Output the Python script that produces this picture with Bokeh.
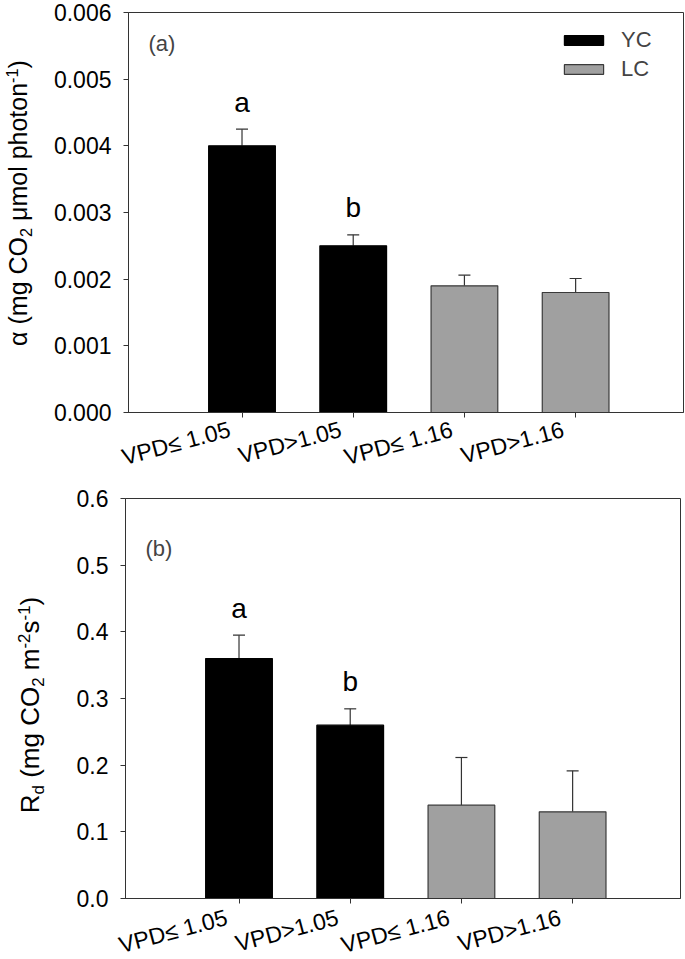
import math
from bokeh.plotting import figure
from bokeh.models import (Range1d, FixedTicker, PrintfTickFormatter, Whisker, TeeHead,
                          ColumnDataSource, Label, Legend, LegendItem, Div)
from bokeh.layouts import column, row
from bokeh.embed import file_html
from bokeh.resources import INLINE
from bokeh.core.properties import value

# ---------------- data ----------------
categories = ["VPD\u2264 1.05", "VPD>1.05", "VPD\u2264 1.16", "VPD>1.16"]
groups = ["YC", "YC", "LC", "LC"]
alpha_mean = [0.0040, 0.0025, 0.0019, 0.0018]
alpha_err = [0.00025, 0.000165, 0.00016, 0.00021]
alpha_letters = ["a", "b", "", ""]
alpha_ticks = [0.000, 0.001, 0.002, 0.003, 0.004, 0.005, 0.006]
rd_mean = [0.36, 0.26, 0.14, 0.13]
rd_err = [0.035, 0.0245, 0.0715, 0.0615]
rd_letters = ["a", "b", "", ""]
rd_ticks = [0.0, 0.1, 0.2, 0.3, 0.4, 0.5, 0.6]

FONT = "Liberation Sans"
AXC = "#333333"
group_color = {"YC": "#000000", "LC": "#A0A0A0"}
group_line = {"YC": "#000000", "LC": "#3a3a3a"}
NBSP = "\u00a0"
TITLE_W = 50

SUB = "<span style=\"font-size:0.65em;position:relative;top:0.31em;\">{}</span>"
SUP = "<span style=\"font-size:0.65em;position:relative;top:-0.55em;\">{}</span>"
top_title_html = ("\u03b1 (mg CO" + SUB.format("2") + " \u03bcmol photon" + SUP.format("-1") + ")")
bot_title_html = ("R" + SUB.format("d") + " (mg CO" + SUB.format("2") + " m" + SUP.format("-2")
                  + "s" + SUP.format("-1") + ")")


def title_div(inner_html, height, x_left, y_center, size=25):
    """Vertical axis title (real HTML text, rotated) sitting left of a panel."""
    html = (f'<div style="position:relative;width:{TITLE_W}px;height:{height}px;">'
            f'<div style="position:absolute;left:{x_left}px;top:{y_center}px;'
            f'transform-origin:0 0;transform:rotate(-90deg) translateX(-50%);'
            f'white-space:nowrap;font-family:\'{FONT}\';font-size:{size}px;'
            f'line-height:{size}px;color:#000;">{inner_html}</div></div>')
    return Div(text=html, width=TITLE_W, height=height, margin=0)


def make_panel(means, errs, letters, ticks, fmt, border_top, border_bottom,
               panel_text, panel_y, xl_standoff, legend=False):
    x = list(range(1, len(categories) + 1))
    p = figure(frame_width=555, frame_height=400,
               x_range=Range1d(-0.0207, 4.970), y_range=Range1d(ticks[0], ticks[-1]),
               output_backend="svg", toolbar_location=None,
               min_border_left=125 - TITLE_W, min_border_right=5,
               min_border_top=border_top, min_border_bottom=border_bottom)
    p.xgrid.grid_line_color = None
    p.ygrid.grid_line_color = None
    p.outline_line_color = AXC
    p.outline_line_width = 1
    p.background_fill_color = "white"
    p.border_fill_color = "white"

    renderers = {}
    for g in ["YC", "LC"]:
        idx = [i for i in range(len(x)) if groups[i] == g]
        src = ColumnDataSource(dict(x=[x[i] for i in idx], top=[means[i] for i in idx]))
        renderers[g] = p.vbar(x="x", top="top", bottom=0, width=0.6, source=src,
                              fill_color=group_color[g], line_color=group_line[g],
                              line_width=1.2)

    esrc = ColumnDataSource(dict(x=x, lower=means,
                                 upper=[m + e for m, e in zip(means, errs)]))
    p.add_layout(Whisker(source=esrc, base="x", lower="lower", upper="upper",
                         line_color=AXC, line_width=1.2, lower_head=None,
                         upper_head=TeeHead(size=12, line_color=AXC, line_width=1.2)))

    li = [i for i in range(len(x)) if letters[i]]
    lsrc = ColumnDataSource(dict(x=[x[i] for i in li],
                                 y=[means[i] + errs[i] for i in li],
                                 t=[letters[i] for i in li]))
    p.text(x="x", y="y", text="t", source=lsrc, text_font=value(FONT),
           text_font_size="28px", text_align="center", text_baseline="alphabetic",
           y_offset=-27, text_color="black")

    p.add_layout(Label(x=20, y=panel_y, x_units="screen", y_units="screen", text=panel_text,
                       text_font=FONT, text_font_size="22px", text_baseline="alphabetic"))

    # axes
    p.xaxis.ticker = FixedTicker(ticks=x)
    p.xaxis.major_label_overrides = {xi: c + NBSP + NBSP for xi, c in zip(x, categories)}
    p.xaxis.major_label_orientation = math.radians(15)
    p.xaxis.major_label_standoff = xl_standoff
    p.yaxis.ticker = FixedTicker(ticks=ticks)
    p.yaxis.formatter = PrintfTickFormatter(format=fmt)
    p.yaxis.major_label_standoff = 12
    for ax in (p.xaxis[0], p.yaxis[0]):
        ax.axis_line_color = AXC
        ax.major_tick_line_color = AXC
        ax.major_tick_out = 5
        ax.major_tick_in = 0
        ax.minor_tick_line_color = None
        ax.major_label_text_font = FONT
        ax.major_label_text_font_size = "23px"
        ax.major_label_text_color = "black"

    if legend:
        lg = Legend(items=[LegendItem(label="YC", renderers=[renderers["YC"]]),
                           LegendItem(label="LC", renderers=[renderers["LC"]])],
                    location=(431, 330), glyph_width=49, glyph_height=12,
                    label_standoff=13, spacing=3, padding=0, margin=0,
                    border_line_color=None, background_fill_alpha=0,
                    label_text_font=FONT, label_text_font_size="22px")
        p.add_layout(lg)
    return p


p1 = make_panel(alpha_mean, alpha_err, alpha_letters, alpha_ticks, "%.3f", 12, 74,
                "(a)", 369, 8, legend=True)
p2 = make_panel(rd_mean, rd_err, rd_letters, rd_ticks, "%.1f", 12, 60,
                "(b)", 350, 10)
t1 = title_div(top_title_html, 486, 6, 203, 25)
t2 = title_div(bot_title_html, 473, 17, 219, 26)

layout = column(row(t1, p1, spacing=0), row(t2, p2, spacing=0), spacing=0)
open("out.html", "w").write(file_html(layout, INLINE))
